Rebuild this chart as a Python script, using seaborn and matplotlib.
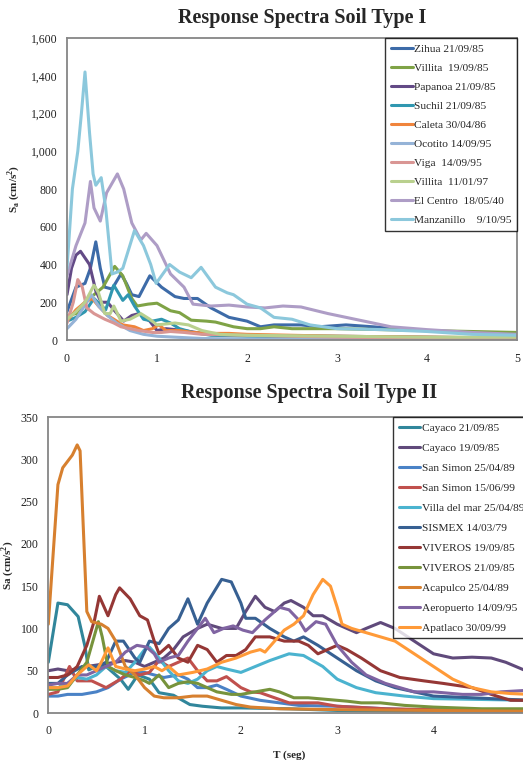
import pandas as pd
import matplotlib.pyplot as plt
import seaborn as sns
from matplotlib.ticker import FuncFormatter

# ---- Soil type I ----
zihua_t = [0, 0.1, 0.2, 0.26, 0.32, 0.37, 0.42, 0.5, 0.6, 0.66, 0.72, 0.8, 0.92, 1.05, 1.2, 1.3, 1.45, 1.6, 1.8, 2.0, 2.15, 2.3, 2.6, 2.8, 3.1, 3.4, 3.8, 4.2, 4.6, 5.0]
zihua_sa = [150, 280, 300, 380, 520, 380, 280, 270, 350, 300, 240, 230, 340, 280, 230, 220, 220, 170, 120, 100, 70, 80, 80, 70, 80, 70, 55, 45, 35, 25]
villita85_t = [0, 0.1, 0.2, 0.3, 0.4, 0.47, 0.53, 0.62, 0.72, 0.78, 0.9, 1.0, 1.15, 1.25, 1.38, 1.55, 1.65, 1.85, 2.0, 2.15, 2.3, 2.5, 3.0, 3.5, 4.0, 4.5, 5.0]
villita85_sa = [130, 140, 200, 240, 280, 340, 390, 340, 220, 180, 190, 195, 155, 145, 105, 100, 95, 70, 60, 60, 70, 60, 60, 55, 50, 45, 40]
papanoa_t = [0, 0.05, 0.1, 0.15, 0.25, 0.32, 0.38, 0.45, 0.52, 0.63, 0.72, 0.8, 0.92, 1.0, 1.1, 1.3, 1.5, 2.0, 3.0, 4.0, 5.0]
papanoa_sa = [240, 380, 450, 470, 400, 260, 200, 200, 160, 100, 130, 140, 100, 50, 60, 50, 35, 25, 20, 15, 10]
suchil_t = [0, 0.1, 0.2, 0.3, 0.43, 0.52, 0.62, 0.68, 0.75, 0.85, 0.95, 1.05, 1.15, 1.25, 1.4, 1.6, 2.0, 3.0, 5.0]
suchil_sa = [100, 120, 150, 220, 160, 290, 210, 240, 180, 110, 100, 110, 90, 60, 40, 25, 20, 15, 10]
caleta_t = [0, 0.1, 0.2, 0.28, 0.35, 0.45, 0.52, 0.62, 0.75, 0.85, 0.95, 1.02, 1.1, 1.25, 1.4, 1.6, 1.8, 2.0, 2.5, 3.0, 4.0, 5.0]
caleta_sa = [100, 160, 200, 220, 180, 130, 110, 80, 70, 50, 60, 80, 50, 50, 40, 35, 35, 30, 25, 20, 15, 10]
ocotito_t = [0, 0.1, 0.22, 0.27, 0.35, 0.45, 0.55, 0.7, 0.85, 1.0, 1.2, 1.5, 2.0, 5.0]
ocotito_sa = [60, 110, 200, 240, 180, 130, 90, 50, 30, 20, 15, 8, 5, 5]
viga_t = [0, 0.07, 0.12, 0.17, 0.22, 0.3, 0.42, 0.52, 0.6, 0.7, 0.8, 0.95, 1.05, 1.15, 1.3, 1.5, 2.0, 3.0, 4.0, 5.0]
viga_sa = [90, 200, 320, 280, 170, 140, 110, 90, 70, 60, 50, 40, 40, 45, 40, 30, 25, 15, 10, 5]
villita97_t = [0, 0.1, 0.2, 0.3, 0.35, 0.42, 0.48, 0.52, 0.6, 0.7, 0.82, 0.92, 1.0, 1.2, 1.35, 1.5, 1.7, 2.0, 3.0, 4.0, 5.0]
villita97_sa = [110, 150, 200, 290, 250, 140, 140, 180, 100, 110, 140, 110, 80, 90, 80, 50, 30, 25, 20, 15, 15]
centro_t = [0, 0.1, 0.2, 0.26, 0.3, 0.37, 0.44, 0.5, 0.56, 0.63, 0.72, 0.82, 0.88, 1.0, 1.15, 1.3, 1.4, 1.6, 1.8, 2.0, 2.2, 2.4, 2.6, 2.9, 3.1, 3.3, 3.6, 4.0, 4.5, 5.0]
centro_sa = [340, 500, 620, 840, 700, 630, 780, 830, 880, 800, 620, 530, 565, 500, 350, 280, 190, 180, 185, 175, 170, 180, 175, 140, 120, 100, 70, 55, 40, 30]
manz_t = [0, 0.06, 0.12, 0.16, 0.2, 0.25, 0.29, 0.32, 0.38, 0.43, 0.5, 0.56, 0.62, 0.75, 0.85, 0.93, 0.99, 1.08, 1.14, 1.25, 1.38, 1.49, 1.65, 1.78, 1.85, 2.0, 2.15, 2.3, 2.5, 2.7, 3.0, 3.5, 4.0, 4.5, 5.0]
manz_sa = [380, 800, 1000, 1200, 1420, 1100, 880, 820, 860, 700, 350, 360, 380, 580, 500, 400, 300, 360, 400, 360, 330, 385, 280, 250, 240, 190, 170, 120, 110, 80, 60, 55, 45, 30, 25]

names1 = ["Zihua 21/09/85", "Villita  19/09/85", "Papanoa 21/09/85", "Suchil 21/09/85",
          "Caleta 30/04/86", "Ocotito 14/09/95", "Viga  14/09/95", "Villita  11/01/97",
          "El Centro  18/05/40", "Manzanillo    9/10/95"]
t1 = [zihua_t, villita85_t, papanoa_t, suchil_t, caleta_t, ocotito_t, viga_t, villita97_t, centro_t, manz_t]
sa1 = [zihua_sa, villita85_sa, papanoa_sa, suchil_sa, caleta_sa, ocotito_sa, viga_sa, villita97_sa, centro_sa, manz_sa]
colors1 = ["#3D6BA8", "#7FA346", "#634A86", "#3097B0", "#F0843C",
           "#95B3D7", "#D99694", "#B9D08E", "#AE9DC6", "#8CC8DC"]

# ---- Soil type II ----
cay21_t = [0, 0.1, 0.2, 0.31, 0.38, 0.42, 0.5, 0.6, 0.75, 0.83, 0.93, 1.05, 1.15, 1.3, 1.47, 1.6, 1.8, 2.0, 2.5, 3.0, 4.0, 5.0]
cay21_sa = [60, 130, 128, 114, 79, 51, 55, 55, 40, 28, 45, 40, 24, 21, 10, 8, 6, 6, 5, 3, 2, 2]
cay19_t = [0, 0.1, 0.2, 0.4, 0.7, 0.8, 0.9, 1.0, 1.1, 1.2, 1.3, 1.4, 1.55, 1.65, 1.8, 1.95, 2.05, 2.15, 2.25, 2.35, 2.45, 2.52, 2.65, 2.75, 2.85, 3.0, 3.1, 3.2, 3.3, 3.45, 3.6, 3.8, 4.0, 4.2, 4.4, 4.6, 4.75, 5.0]
cay19_sa = [50, 52, 50, 55, 60, 62, 60, 55, 60, 65, 75, 90, 100, 105, 100, 100, 120, 138, 125, 120, 130, 133, 125, 115, 115, 105, 100, 95, 100, 107, 100, 85, 70, 65, 66, 65, 60, 48]
ss89_t = [0, 0.1, 0.2, 0.35, 0.5, 0.62, 0.75, 0.9, 1.0, 1.1, 1.2, 1.35, 1.45, 1.55, 1.65, 1.75, 1.85, 2.0, 2.2, 2.4, 2.6, 3.0, 3.5, 4.0, 5.0]
ss89_sa = [20, 20, 22, 22, 25, 30, 40, 48, 48, 45, 42, 45, 40, 30, 30, 33, 28, 20, 15, 12, 9, 8, 5, 3, 2]
ss99_t = [0, 0.1, 0.22, 0.3, 0.45, 0.6, 0.75, 0.85, 0.95, 1.05, 1.15, 1.25, 1.35, 1.45, 1.55, 1.65, 1.75, 1.85, 2.0, 2.1, 2.2, 2.35, 2.5, 2.6, 2.8, 3.0, 3.5, 4.0, 5.0]
ss99_sa = [22, 25, 55, 38, 38, 30, 40, 50, 45, 48, 62, 55, 60, 65, 50, 38, 38, 43, 30, 25, 24, 18, 12, 12, 12, 8, 5, 4, 3]
villa_t = [0, 0.1, 0.2, 0.3, 0.4, 0.5, 0.6, 0.7, 0.8, 0.9, 1.0, 1.05, 1.15, 1.25, 1.35, 1.45, 1.55, 1.65, 1.75, 1.85, 2.0, 2.15, 2.3, 2.5, 2.65, 2.85, 3.0, 3.2, 3.4, 3.7, 4.0, 4.5, 5.0]
villa_sa = [30, 30, 35, 42, 40, 45, 55, 50, 48, 60, 75, 78, 65, 50, 38, 35, 40, 50, 55, 52, 48, 55, 62, 70, 68, 55, 40, 30, 24, 20, 17, 16, 15]
sismex_t = [0, 0.1, 0.2, 0.35, 0.5, 0.6, 0.7, 0.78, 0.9, 0.95, 1.05, 1.15, 1.25, 1.35, 1.45, 1.55, 1.65, 1.8, 1.9, 2.0, 2.05, 2.15, 2.3, 2.45, 2.55, 2.65, 2.8, 3.0, 3.2, 3.4, 3.6, 3.8, 4.0, 4.4, 5.0]
sismex_sa = [35, 35, 45, 55, 55, 60, 85, 85, 65, 60, 85, 82, 100, 110, 135, 105, 130, 158, 155, 130, 112, 112, 100, 90, 85, 90, 80, 65, 50, 38, 30, 25, 20, 18, 15]
viv19_t = [0, 0.1, 0.2, 0.3, 0.4, 0.48, 0.53, 0.62, 0.7, 0.74, 0.85, 0.95, 1.03, 1.1, 1.15, 1.25, 1.35, 1.45, 1.55, 1.65, 1.75, 1.85, 1.95, 2.05, 2.15, 2.3, 2.45, 2.6, 2.7, 2.8, 2.9, 3.0, 3.1, 3.25, 3.45, 3.65, 3.9, 4.1, 4.4, 4.6, 4.8, 5.0]
viv19_sa = [42, 42, 45, 55, 80, 110, 138, 115, 140, 148, 135, 115, 110, 85, 70, 80, 65, 60, 80, 75, 60, 68, 68, 75, 90, 90, 85, 85, 80, 70, 75, 80, 75, 65, 50, 42, 38, 35, 30, 22, 15, 15]
viv21_t = [0, 0.1, 0.2, 0.3, 0.4, 0.52, 0.56, 0.62, 0.7, 0.8, 0.9, 1.0, 1.05, 1.15, 1.25, 1.35, 1.45, 1.55, 1.65, 1.75, 1.9, 2.0, 2.15, 2.3, 2.4, 2.55, 2.7, 2.9, 3.1, 3.25, 3.45, 3.7, 4.0, 4.5, 5.0]
viv21_sa = [28, 28, 30, 45, 60, 108, 90, 55, 50, 45, 42, 38, 35, 45, 30, 35, 37, 35, 30, 25, 22, 22, 25, 28, 25, 18, 18, 16, 14, 12, 12, 9, 7, 5, 5]
aca_t = [0, 0.1, 0.15, 0.25, 0.3, 0.33, 0.4, 0.45, 0.55, 0.62, 0.7, 0.8, 0.9, 1.0, 1.1, 1.2, 1.35, 1.5, 1.65, 1.8, 1.95, 2.1, 2.4, 3.0, 4.0, 5.0]
aca_sa = [105, 270, 290, 305, 317, 310, 120, 108, 105, 100, 85, 55, 45, 30, 20, 18, 18, 20, 20, 15, 10, 7, 5, 4, 3, 2]
aero_t = [0, 0.1, 0.2, 0.3, 0.4, 0.5, 0.6, 0.7, 0.8, 0.92, 1.02, 1.1, 1.15, 1.25, 1.35, 1.45, 1.55, 1.63, 1.72, 1.82, 1.92, 2.02, 2.12, 2.25, 2.4, 2.5, 2.6, 2.67, 2.78, 2.88, 3.0, 3.15, 3.3, 3.5, 3.8, 4.0, 4.3, 4.5, 4.7, 5.0]
aero_sa = [33, 35, 35, 45, 45, 50, 55, 60, 72, 80, 78, 70, 60, 65, 68, 85, 100, 112, 95, 100, 103, 98, 95, 110, 125, 122, 110, 97, 108, 105, 80, 60, 45, 35, 25, 25, 22, 22, 25, 27]
apat_t = [0, 0.1, 0.2, 0.3, 0.42, 0.5, 0.55, 0.62, 0.7, 0.8, 0.9, 1.0, 1.1, 1.18, 1.25, 1.35, 1.5, 1.65, 1.8, 1.95, 2.1, 2.2, 2.25, 2.35, 2.45, 2.55, 2.65, 2.75, 2.85, 2.93, 3.0, 3.05, 3.15, 3.3, 3.45, 3.6, 3.8, 4.0, 4.2, 4.4, 4.6, 4.8, 5.0]
apat_sa = [30, 30, 32, 45, 57, 50, 60, 77, 55, 52, 50, 52, 55, 50, 55, 45, 48, 52, 60, 65, 72, 75, 72, 85, 98, 105, 115, 140, 158, 150, 125, 105, 100, 95, 90, 85, 70, 55, 40, 30, 25, 23, 22]

names2 = ["Cayaco 21/09/85", "Cayaco 19/09/85", "San Simon 25/04/89", "San Simon 15/06/99",
          "Villa del mar 25/04/89", "SISMEX 14/03/79", "VIVEROS 19/09/85", "VIVEROS 21/09/85",
          "Acapulco 25/04/89", "Aeropuerto 14/09/95", "Apatlaco 30/09/99"]
t2 = [cay21_t, cay19_t, ss89_t, ss99_t, villa_t, sismex_t, viv19_t, viv21_t, aca_t, aero_t, apat_t]
sa2 = [cay21_sa, cay19_sa, ss89_sa, ss99_sa, villa_sa, sismex_sa, viv19_sa, viv21_sa, aca_sa, aero_sa, apat_sa]
colors2 = ["#31869B", "#604A7B", "#4A82C6", "#C0504D", "#4BB3CF", "#376092",
           "#953735", "#77933C", "#D7802F", "#8064A2", "#FF9A38"]


def build(names, ts, sas):
    frames = []
    for n, t, s in zip(names, ts, sas):
        frames.append(pd.DataFrame({"T": t, "Sa": s, "serie": n}))
    return pd.concat(frames, ignore_index=True)


sns.set_style("white")
plt.rcParams['font.family'] = ['Liberation Serif', 'DejaVu Serif']

fig = plt.figure(figsize=(5.23, 7.6), dpi=100)
ax1 = fig.add_axes([67 / 523, 1 - 340 / 760, 450 / 523, 302 / 760])
ax2 = fig.add_axes([48.3 / 523, 1 - 713 / 760, 481.5 / 523, 296 / 760])

df1 = build(names1, t1, sa1)
df2 = build(names2, t2, sa2)
sns.lineplot(data=df1, x="T", y="Sa", hue="serie", palette=dict(zip(names1, colors1)),
             estimator=None, linewidth=2.2, ax=ax1)
sns.lineplot(data=df2, x="T", y="Sa", hue="serie", palette=dict(zip(names2, colors2)),
             estimator=None, linewidth=2.2, ax=ax2)

ax1.set_xlim(0, 5)
ax1.set_ylim(0, 1600)
ax1.set_xticks([0, 1, 2, 3, 4, 5])
ax1.set_yticks(range(0, 1601, 200))
ax1.yaxis.set_major_formatter(FuncFormatter(lambda v, p: "{:,.0f}".format(v)))
ax1.set_xlabel("")
ax1.set_ylabel(r"S$_\mathregular{a}$ (cm/s$^\mathregular{2}$)", fontsize=8, fontweight="bold", labelpad=6)

ax2.set_xlim(0, 5)
ax2.set_ylim(0, 350)
ax2.set_xticks([0, 1, 2, 3, 4])
ax2.set_yticks(range(0, 351, 50))
ax2.set_xlabel("T (seg)", fontsize=8, fontweight="bold", labelpad=9)
ax2.set_ylabel(r"Sa (cm/s$^\mathregular{2}$)", fontsize=8, fontweight="bold")
ax2.yaxis.set_label_coords(-0.068, 0.5)

for ax, ls in ((ax1, 0.8), (ax2, 0.88)):
    ax.tick_params(length=0, labelsize=8.5, colors="#222222")
    ax.tick_params(axis="x", pad=9)
    ax.tick_params(axis="y", pad=7)
    for sp in ax.spines.values():
        sp.set_color("#868686")
        sp.set_linewidth(1.3)
    leg = ax.legend(loc="upper right", borderaxespad=0, fontsize=8.2, frameon=True,
                    fancybox=False, handlelength=1.9, handletextpad=0.1,
                    labelspacing=ls, borderpad=0.5)
    leg.get_frame().set_edgecolor("black")
    leg.get_frame().set_linewidth(1.0)
    for line in leg.get_lines():
        line.set_linewidth(2.2)

fig.text(302 / 523, 1 - 18 / 760, "Response Spectra Soil Type I", ha="center", va="center",
         fontsize=14.5, fontweight="bold")
fig.text(309 / 523, 1 - 393 / 760, "Response Spectra Soil Type II", ha="center", va="center",
         fontsize=14.5, fontweight="bold")

plt.savefig("out.png", dpi=100)
